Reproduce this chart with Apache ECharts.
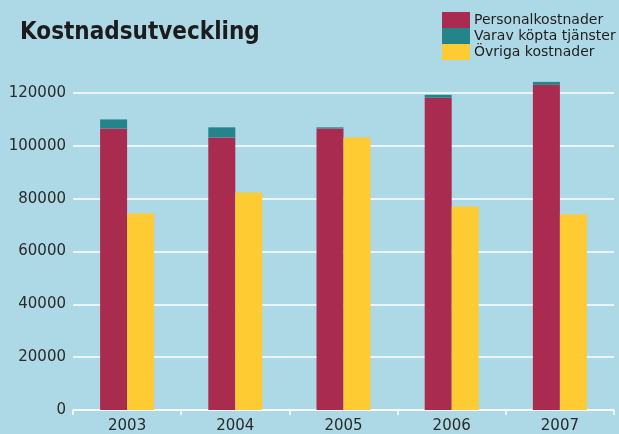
<!DOCTYPE html>
<html>
<head>
<meta charset="utf-8">
<script src="https://cdn.jsdelivr.net/npm/echarts@6/dist/echarts.min.js"></script>
<style>
html,body{margin:0;padding:0;background:#ADD8E6;}
#chart{width:619px;height:434px;}
</style>
</head>
<body>
<div id="chart"></div>
<script>
var titleText = 'Kostnadsutveckling';
var years = ['2003', '2004', '2005', '2006', '2007'];
var seriesNames = ['Personalkostnader', 'Varav köpta tjänster', 'Övriga kostnader'];
var personal = [106600, 103200, 106600, 118200, 123100];
var kopta = [3400, 3800, 400, 1100, 1100];
var ovriga = [74400, 82300, 103200, 77000, 74000];
var yMin = 0, yMax = 120000, yStep = 20000;

var chart = echarts.init(document.getElementById('chart'), null, {renderer: 'canvas'});
var axisFont = {fontFamily: 'DejaVu Sans', fontSize: 15, color: '#2a2a2a'};
chart.setOption({
  backgroundColor: '#ADD8E6',
  animation: false,
  title: {
    text: titleText,
    left: 20,
    top: 21,
    padding: 0,
    textStyle: {fontFamily: "'DejaVu Sans Condensed', sans-serif", fontWeight: 'bold', fontSize: 24, color: '#1c1c1c'}
  },
  legend: {
    orient: 'vertical',
    left: 442,
    top: 12,
    padding: 0,
    itemGap: 0,
    itemWidth: 28,
    itemHeight: 16,
    icon: 'rect',
    selectedMode: false,
    textStyle: {fontFamily: 'DejaVu Sans', fontSize: 14, color: '#1e1e1e', lineHeight: 16, padding: [0, 0, 0, -1]},
    data: seriesNames
  },
  grid: {left: 73, right: 5, top: 93, bottom: 20.5, containLabel: false},
  xAxis: {
    type: 'category',
    data: years,
    axisLine: {lineStyle: {color: '#ffffff', width: 1.5}},
    axisTick: {show: true, length: 5, lineStyle: {color: '#ffffff', width: 1.5}},
    axisLabel: Object.assign({margin: 9}, axisFont),
    splitLine: {show: false}
  },
  yAxis: {
    type: 'value',
    min: yMin,
    max: yMax,
    interval: yStep,
    axisLine: {show: false},
    axisTick: {show: false},
    axisLabel: Object.assign({margin: 7, formatter: function (v) { return String(v); }}, axisFont),
    splitLine: {lineStyle: {color: '#ffffff', width: 1.5}}
  },
  series: [
    {name: seriesNames[0], type: 'bar', stack: 'a', data: personal, barWidth: 27, barGap: '0%', clip: false,
     itemStyle: {color: '#A92B50'}},
    {name: seriesNames[1], type: 'bar', stack: 'a', data: kopta, barWidth: 27, barGap: '0%', clip: false,
     itemStyle: {color: '#24848A'}},
    {name: seriesNames[2], type: 'bar', data: ovriga, barWidth: 27, barGap: '0%', clip: false,
     itemStyle: {color: '#FFCB33'}}
  ]
});
</script>
</body>
</html>
